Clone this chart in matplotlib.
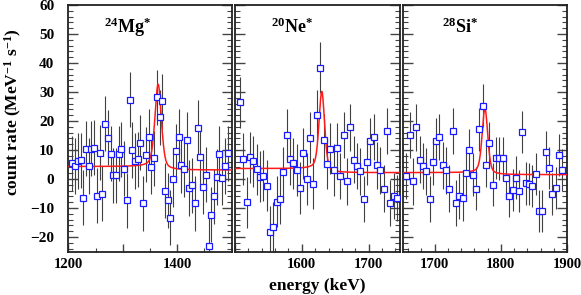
import math
import numpy as np
import matplotlib
matplotlib.use("Agg")
import matplotlib.pyplot as plt
from matplotlib.ticker import MultipleLocator, FixedLocator, FixedFormatter

# ---------------- data ----------------
bin_width = 5.0                      # keV
e_start_low = 1207.5                 # first bin centre, low-energy window
rate_low = [5.4, 4.5, 6.2, 6.5, -6.4, 10.4, 4.5, 10.4, 10.8, -5.8,
            9.1, -5.0, 19.0, 14.2, 8.7, 1.3, 1.3, 8.7, 10.2, 3.6,
            -7.3, 27.4, 10.0, 6.2, 6.8, 12.5, -8.4, 8.3, 14.6, 4.3,
            7.2, 28.2, 21.3, 26.8, -4.1, -7.3, -13.4, -0.1, 9.6, 14.6,
            4.7, 3.3, 13.5, -3.1, -2.1, -8.3, 17.7, 7.7, -2.7, 1.5,
            -23.0, -12.3, -6.0, 0.7, 8.7, 0.4, 4.5, 8.9]
err_low = [9.5] * len(rate_low)

e_start_high = 1507.5                # first bin centre, high-energy window
rate_high = [26.5, 6.9, -8.0, 7.5, 6.1, 3.3, 0.7, 1.2, -2.3, -18.2,
             -16.7, -7.8, -6.8, 2.3, 15.2, 6.9, 5.5, 3.1, -3.1, 8.9,
             0.0, 14.3, -1.7, 22.0, 38.4, 13.5, 5.3, 10.4, 3.1, 10.6,
             1.1, 15.1, -0.8, 17.8, 6.7, 4.5, 2.6, -6.8, 6.0, 13.2,
             14.4, 4.7, 3.0, -3.3, 16.5, -8.3, -5.9, -6.5, 1.9, 10.0,
             1.5, -3.3, 17.1, 25.3, 4.7, 12.5, -1.9, 7.2, 7.1, 7.2,
             0.5, -5.8, -3.7, 0.5, -4.2, 16.2, -1.5, -1.8, -2.4, 1.8,
             -11.0, -11.0, 9.3, 3.8, -5.1, -3.2, 8.3, 3.1]
err_high = [8.8] * 30 + [8.0] * 18 + [7.3] * 30

panel_titles = [r"$^{\mathbf{24}}\mathbf{Mg}^{*}$",
                r"$^{\mathbf{20}}\mathbf{Ne}^{*}$",
                r"$^{\mathbf{28}}\mathbf{Si}^{*}$"]
panel_xlims = [(1200, 1500), (1500, 1747), (1653, 1900)]
panel_major = [[1200, 1300, 1400], [1500, 1600, 1700], [1700, 1800, 1900]]
panel_major_labels = [["1200", "", "1400"], ["", "1600", "1700"],
                      ["1700", "1800", "1900"]]
panel_minor = [50, 20, 20]
y_ticks = [-20, -10, 0, 10, 20, 30, 40, 50, 60]

# fit parameters: centre, fwhm, amplitude, lorentz fraction, bg left, bg right
fit_center = [1365, 1630, 1776]
fit_fwhm = [14, 10, 10]
fit_amp = [29.0, 27.3, 22.5]
fit_eta = [0.4, 0.4, 0.4]
fit_bg_left = [4.3, 3.6, 2.2]
fit_bg_right = [3.1, 2.2, 1.5]

# ---------------- style ----------------
plt.rcParams["font.family"] = ["Liberation Serif", "DejaVu Serif"]
plt.rcParams["font.weight"] = "bold"
plt.rcParams["mathtext.fontset"] = "custom"
plt.rcParams["mathtext.rm"] = "Liberation Serif"
plt.rcParams["mathtext.bf"] = "Liberation Serif:bold"
plt.rcParams["mathtext.it"] = "Liberation Serif:italic"

W, H = 581, 295
fig = plt.figure(figsize=(W / 100, H / 100), dpi=100)

panel_left_px = [68.3, 235.0, 403.3]
panel_width_px = [163.4, 165.0, 164.0]
top_px, bottom_px = 5.0, 251.5
title_x_px = [127.5, 292.5, 460.0]

e_low = e_start_low + bin_width * np.arange(len(rate_low))
e_high = e_start_high + bin_width * np.arange(len(rate_high))
spec_E = np.concatenate([e_low, e_high])
spec_R = np.array(rate_low + rate_high)
spec_S = np.array(err_low + err_high)

_erfc = np.vectorize(math.erfc)


def fit_curve(E, c, fwhm, amp, eta, bl, br):
    x = (E - c) / fwhm
    g = np.exp(-4 * np.log(2) * x ** 2)
    lor = 1.0 / (1.0 + 4 * x ** 2)
    sigma = fwhm / 2.3548
    step = 0.5 * _erfc((E - c) / (np.sqrt(2) * sigma))
    return br + (bl - br) * step + amp * ((1 - eta) * g + eta * lor)


for i in range(3):
    l = panel_left_px[i] / W
    b = 1 - bottom_px / H
    w = panel_width_px[i] / W
    h = (bottom_px - top_px) / H
    ax = fig.add_axes([l, b, w, h])
    x0, x1 = panel_xlims[i]
    m = (spec_E > x0 + 0.6) & (spec_E < x1 - 0.6)
    E, R, S = spec_E[m], spec_R[m], spec_S[m]
    ax.vlines(E, R - S, R + S, colors="#404040", linewidth=0.8, zorder=2)
    ax.plot(E, R, linestyle="none", marker="s", markersize=4.3,
            markerfacecolor="white", markeredgecolor="#1a1aff",
            markeredgewidth=0.9, zorder=4)
    xf = np.linspace(x0, x1, 600)
    yf = fit_curve(xf, fit_center[i], fit_fwhm[i], fit_amp[i], fit_eta[i],
                   fit_bg_left[i], fit_bg_right[i])
    ax.plot(xf, yf, color="#ff1a1a", linewidth=1.1, zorder=3)

    ax.set_xlim(x0, x1)
    ax.set_ylim(-25, 60)
    ax.xaxis.set_major_locator(FixedLocator(panel_major[i]))
    ax.xaxis.set_major_formatter(FixedFormatter(panel_major_labels[i]))
    ax.xaxis.set_minor_locator(MultipleLocator(panel_minor[i]))
    ax.yaxis.set_major_locator(FixedLocator(y_ticks))
    ax.yaxis.set_minor_locator(MultipleLocator(2))
    ax.tick_params(axis="both", which="both", direction="in",
                   right=True, top=False, colors="#444444")
    ax.tick_params(axis="y", which="major", length=7, width=1.0)
    ax.tick_params(axis="y", which="minor", length=3.5, width=0.8)
    ax.tick_params(axis="x", which="major", length=6, width=1.0)
    ax.tick_params(axis="x", which="minor", length=3, width=0.8)
    ax.tick_params(axis="x", which="major", pad=5, labelsize=10.5,
                   labelcolor="black")
    ax.tick_params(axis="y", which="major", pad=10, labelsize=11,
                   labelcolor="black")
    if i > 0:
        ax.tick_params(axis="y", labelleft=False)
    for lab in ax.get_xticklabels() + ax.get_yticklabels():
        lab.set_fontweight("bold")
    for sp in ax.spines.values():
        sp.set_linewidth(1.3)
        sp.set_color("#222222")
    fig.text(title_x_px[i] / W, 1 - 27 / H, panel_titles[i],
             ha="center", va="center", fontsize=13)

fig.text(13 / W, 1 - 112 / H, r"count rate (MeV$^{\mathbf{-1}}$ s$^{\mathbf{-1}}$)",
         rotation=90, ha="center", va="center", fontsize=12.5, fontweight="bold")
fig.text(317 / W, 1 - 286 / H, "energy (keV)", ha="center", va="center",
         fontsize=12.5, fontweight="bold")

fig.savefig("out.png", dpi=100)
